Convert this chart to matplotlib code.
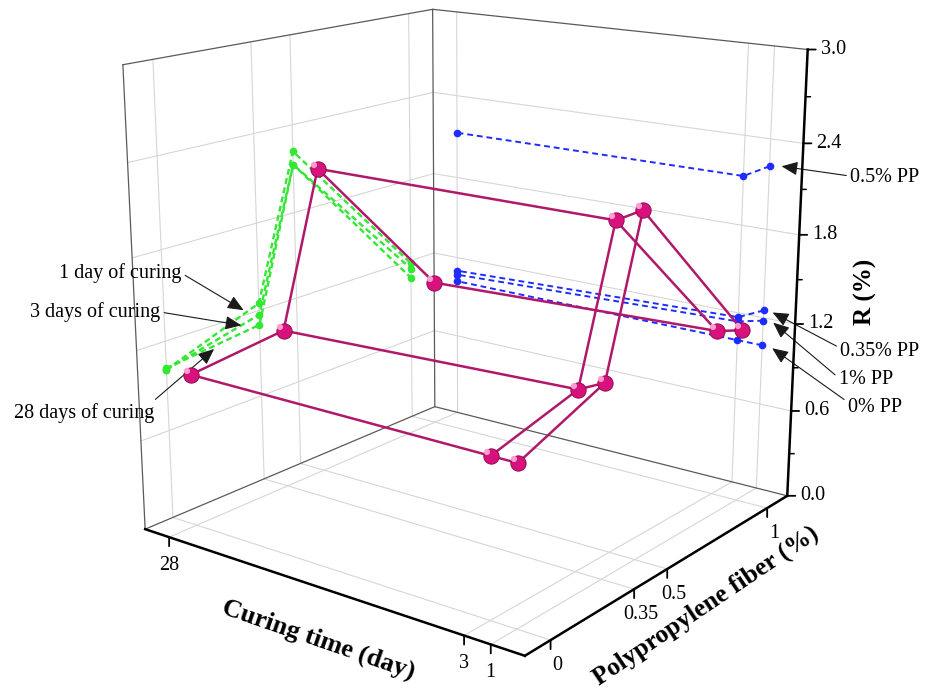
import numpy as np
import matplotlib
matplotlib.use('Agg')
import matplotlib.pyplot as plt
from matplotlib.path import Path
from matplotlib.transforms import offset_copy
from mpl_toolkits.mplot3d import proj3d

plt.rcParams['font.family'] = ['Liberation Serif', 'DejaVu Serif']

# data
curing_days = [1, 3, 28]
fiber_pct = [0, 0.35, 0.5, 1]
R_1day = [1.01, 1.25, 2.22, 1.18]
R_3day = [1.01, 1.17, 2.13, 1.14]
R_28day = [1.02, 1.10, 2.13, 1.07]

curing_ticks = [28, 3, 1]
fiber_ticks = [0, 0.35, 0.5, 1]
fiber_ticklabels = ['0', '0.35', '0.5', '1']
r_ticks = [0.0, 0.6, 1.2, 1.8, 2.4, 3.0]
r_minor = [0.3, 0.9, 1.5, 2.1, 2.7]

R = np.array([R_1day, R_3day, R_28day])

# axis ranges (x = fiber, y = curing, z = R)
x0, x1 = -0.1, 1.11
y0, y1 = -1.5, 30.3
z0, z1 = 0.0, 3.0

green = '#33e833'
blue = '#1e2cff'
mag_line = '#b0196b'
mag_ball = '#d8127c'

W, H = 935, 695
fig = plt.figure(figsize=(W / 100, H / 100), dpi=100)
S = 795
ax = fig.add_axes([64.7 / W, -5.1 / H, S / W, S / H], projection='3d',
                  computed_zorder=False)
ax.set_box_aspect((1, 1, 1))
ax.view_init(elev=15.9, azim=-142.8)
ax.set_proj_type('persp', focal_length=0.469)
ax.set_axis_off()

# grid on the back walls and the floor
grid_kw = dict(color='#d6d6d6', lw=0.8, zorder=1)
for f in fiber_ticks:
    ax.plot([f, f], [y1, y1], [z0, z1], **grid_kw)
    ax.plot([f, f], [y0, y1], [z0, z0], **grid_kw)
for c in curing_ticks:
    ax.plot([x1, x1], [c, c], [z0, z1], **grid_kw)
    ax.plot([x0, x1], [c, c], [z0, z0], **grid_kw)
for r in r_ticks[1:-1]:
    ax.plot([x0, x1], [y1, y1], [r, r], **grid_kw)
    ax.plot([x1, x1], [y0, y1], [r, r], **grid_kw)

# box edges
edge_kw = dict(color='#5a5a5a', lw=0.9, zorder=2)
ax.plot([x0, x0], [y1, y1], [z0, z1], **edge_kw)
ax.plot([x1, x1], [y1, y1], [z0, z1], **edge_kw)
ax.plot([x0, x1, x1], [y1, y1, y0], [z1, z1, z1], **edge_kw)
ax.plot([x0, x1, x1], [y1, y1, y0], [z0, z0, z0], **edge_kw)

# projections on the walls
for k in range(len(curing_days)):
    ax.plot(fiber_pct, [y1] * len(fiber_pct), R[k], color=green, lw=1.7,
            ls=(0, (2.5, 1.5)), marker='o', ms=4.5, zorder=3)
for j in range(len(fiber_pct)):
    ax.plot([x1] * len(curing_days), curing_days, R[:, j], color=blue, lw=1.4,
            ls=(0, (3, 2)), marker='o', ms=4.5, zorder=3)

# main wireframe
for k in range(len(curing_days)):
    ax.plot(fiber_pct, [curing_days[k]] * len(fiber_pct), R[k],
            color=mag_line, lw=1.8, zorder=5)
for j in range(len(fiber_pct)):
    ax.plot([fiber_pct[j]] * len(curing_days), curing_days, R[:, j],
            color=mag_line, lw=1.8, zorder=5)
F, C = np.meshgrid(fiber_pct, curing_days)
ax.plot(F.ravel(), C.ravel(), R.ravel(), ls='none', marker='o', ms=11,
        mfc=mag_ball, mec='#950a52', mew=0.7, zorder=6)
shine = Path.circle(center=(-0.25, 0.25), radius=0.17)
ax.plot(F.ravel(), C.ravel(), R.ravel(), ls='none', marker=shine, ms=11,
        mfc='#ff9fd0', mec='none', zorder=7)

# axis lines
axis_kw = dict(color='black', lw=1.8, zorder=8)
ax.plot([x0, x0], [y1, y0], [z0, z0], **axis_kw)
ax.plot([x0, x1], [y0, y0], [z0, z0], **axis_kw)
ax.plot([x1, x1], [y0, y0], [z0, z1], **axis_kw)

ax.set_xlim(x0, x1)
ax.set_ylim(y0, y1)
ax.set_zlim(z0, z1)


def proj(x, y, z):
    px, py, _ = proj3d.proj_transform(x, y, z, ax.get_proj())
    return px, py


def tick(pt, dx, dy, lw=1.3):
    ax.annotate('', xy=pt, xytext=(dx, dy), textcoords='offset pixels',
                annotation_clip=False,
                arrowprops=dict(arrowstyle='-', color='black', lw=lw,
                                shrinkA=0, shrinkB=0))


fs = 14.5
for c in curing_ticks:
    p = proj(x0, c, z0)
    tick(p, 0, -9)
    ax.annotate(str(c), xy=p, xytext=(0, -28), textcoords='offset pixels',
                ha='center', va='center', fontsize=fs, annotation_clip=False)
for f, lab in zip(fiber_ticks, fiber_ticklabels):
    p = proj(f, y0, z0)
    tick(p, 0, -9)
    ax.annotate(lab, xy=p, xytext=(7, -25), textcoords='offset pixels',
                ha='center', va='center', fontsize=fs, annotation_clip=False)
for r in r_ticks:
    p = proj(x1, y0, r)
    tick(p, 8, 0)
    ax.annotate(f'{r:.1f}', xy=p, xytext=(13, 0), textcoords='offset pixels',
                ha='left', va='center', fontsize=fs, annotation_clip=False)
for r in r_minor:
    tick(proj(x1, y0, r), 5, 0, lw=1.1)

# axis titles
fig.text(318 / W, 55 / H, 'Curing time (day)', fontsize=19, fontweight='bold',
         rotation=-19, ha='center', va='center')
fig.text(706 / W, 89 / H, 'Polypropylene fiber (%)', fontsize=18.5,
         fontweight='bold', rotation=34, ha='center', va='center')
fig.text(865 / W, 403 / H, 'R (%)', fontsize=18, fontweight='bold',
         rotation=90, ha='center', va='center')


# callouts
def callout(text, pt, off, txt_xy, rel):
    ax.annotate(text, xy=pt,
                xycoords=offset_copy(ax.transData, fig=fig, x=off[0], y=off[1],
                                     units='dots'),
                xytext=txt_xy, textcoords='figure pixels', ha='center',
                va='center', fontsize=fs, annotation_clip=False,
                arrowprops=dict(arrowstyle='-|>,head_length=0.7,head_width=0.3',
                                mutation_scale=14, color='#1a1a1a', lw=0.8,
                                shrinkA=1, shrinkB=0, relpos=rel))


callout('1 day of curing', proj(0.29, y1, np.interp(0.29, fiber_pct, R_1day)),
        (0, 4), (120, H - 273), (1.0, 0.5))
callout('3 days of curing', proj(0.28, y1, np.interp(0.28, fiber_pct, R_3day)),
        (0, 0), (95, H - 312), (1.0, 0.5))
callout('28 days of curing', proj(0.175, y1, np.interp(0.175, fiber_pct, R_28day)),
        (0, -3), (84, H - 413), (0.97, 0.95))

callout('0.5% PP', proj(x1, 1, R[0, 2]), (12, 0), (885, H - 178), (0.0, 0.6))
callout('0.35% PP', proj(x1, 1, R[0, 1]), (9, -2), (880, H - 352), (0.0, 0.7))
callout('1% PP', proj(x1, 1, R[0, 3]), (10, -2), (866, H - 380), (0.0, 0.6))
callout('0% PP', proj(x1, 1, R[0, 0]), (10, -3), (875, H - 408), (0.0, 0.8))

fig.savefig('out.png', dpi=100)
